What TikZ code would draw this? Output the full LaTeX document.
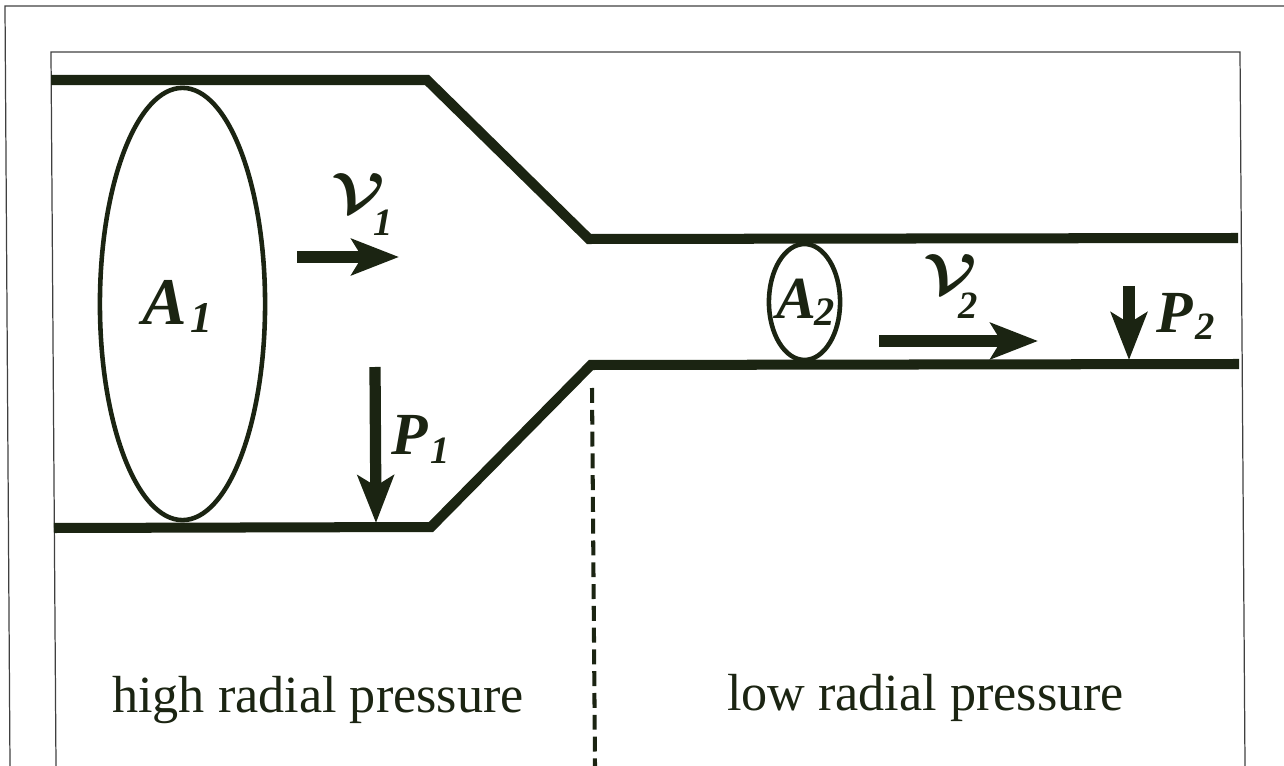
\documentclass[tikz,border=0pt]{standalone}
\usepackage{fontspec}
\setmainfont{Liberation Serif}
\usetikzlibrary{arrows.meta,shapes.geometric}
\definecolor{ink}{HTML}{1B2412}
\newcommand{\symfont}[1]{\fontsize{#1}{#1}\selectfont\bfseries\itshape}
\newcommand{\speedmark}{\scalebox{1.5}[1.3]{\fontsize{25}{25}\selectfont\mbox{\mathversion{bold}$\mathcal{V}$}}}
\begin{document}
\begin{tikzpicture}[
    x=0.02cm, y=-0.02cm,
    frame/.style={draw=black!75, line width=0.7pt},
    wall/.style={draw=ink, line width=5.7pt, line join=miter},
    area/.style={draw=ink, ellipse, line width=2.6pt, inner sep=0pt},
    flow/.style={draw=ink, line width=6.4pt, -{Stealth[length=27pt,width=20.5pt,inset=6pt,fill=ink]}},
    symbol/.style={text=ink, anchor=base west, inner sep=0pt},
    speedsym/.style={text=ink, inner sep=0pt},
    region/.style={text=ink, font=\fontsize{29.7}{30}\selectfont, inner sep=0pt},
    divider/.style={draw=ink, line width=2.3pt, dash pattern=on 8.5pt off 3.9pt}
]
\useasboundingbox (0,0) rectangle (1284,766);

% Page frames
\coordinate (outerA) at (10,766);
\coordinate (outerB) at (5,6);
\coordinate (outerC) at (1284,6);
\coordinate (innerA) at (56,766);
\coordinate (innerB) at (51,52);
\coordinate (innerC) at (1240,52);
\coordinate (innerD) at (1245,766);
\draw[frame] (outerA) -- (outerB) -- (outerC);
\draw[frame] (innerA) -- (innerB) -- (innerC) -- (innerD);

% Tube walls
\coordinate (topA) at (51,80);
\coordinate (topB) at (427,80);
\coordinate (topC) at (589,239);
\coordinate (topD) at (1238,238);
\coordinate (lowA) at (54,528);
\coordinate (lowB) at (431,527);
\coordinate (lowC) at (591,365);
\coordinate (lowD) at (1239,364);
\draw[wall] (topA) -- (topB) -- (topC) -- (topD);
\draw[wall] (lowA) -- (lowB) -- (lowC) -- (lowD);

% Cross sections
\node[area, minimum width=94pt, minimum height=246pt] (areaA) at (182.5,304) {};
\node[area, minimum width=40.5pt, minimum height=66pt] (areaB) at (804.5,302) {};
\node[symbol, font=\symfont{38}] (labelA) at (142,325) {A};
\node[symbol, font=\symfont{25}] (subA) at (190,333) {1};
\node[symbol, font=\symfont{34}] (labelB) at (776,319) {A};
\node[symbol, font=\symfont{23}] (subB) at (814,326) {2};

% Speed arrows
\coordinate (flowAa) at (297,257);
\coordinate (flowAb) at (399,257);
\coordinate (flowBa) at (879,341);
\coordinate (flowBb) at (1038,341);
\draw[flow] (flowAa) -- (flowAb);
\draw[flow] (flowBa) -- (flowBb);
\node[speedsym] (speedA) at (358,193) {\speedmark};
\node[symbol, font=\symfont{22}] (subC) at (373,236) {1};
\node[speedsym] (speedB) at (950,274) {\speedmark};
\node[symbol, font=\symfont{22}] (subD) at (958,319) {2};

% Pressure arrows
\coordinate (pressAa) at (375,367);
\coordinate (pressAb) at (376,523);
\coordinate (pressBa) at (1129,286);
\coordinate (pressBb) at (1129,360);
\draw[flow] (pressAa) -- (pressAb);
\draw[flow] (pressBa) -- (pressBb);
\node[symbol, font=\symfont{34}] (labelC) at (391,455) {P};
\node[symbol, font=\symfont{22}] (subE) at (430,463) {1};
\node[symbol, font=\symfont{34}] (labelD) at (1156,333) {P};
\node[symbol, font=\symfont{22}] (subF) at (1195,340) {2};

% Regions
\coordinate (divA) at (592,388);
\coordinate (divB) at (595,766);
\draw[divider] (divA) -- (divB);
\node[region] (high) at (318,700) {high radial pressure};
\node[region] (low) at (925.5,698) {low radial pressure};
\end{tikzpicture}
\end{document}
